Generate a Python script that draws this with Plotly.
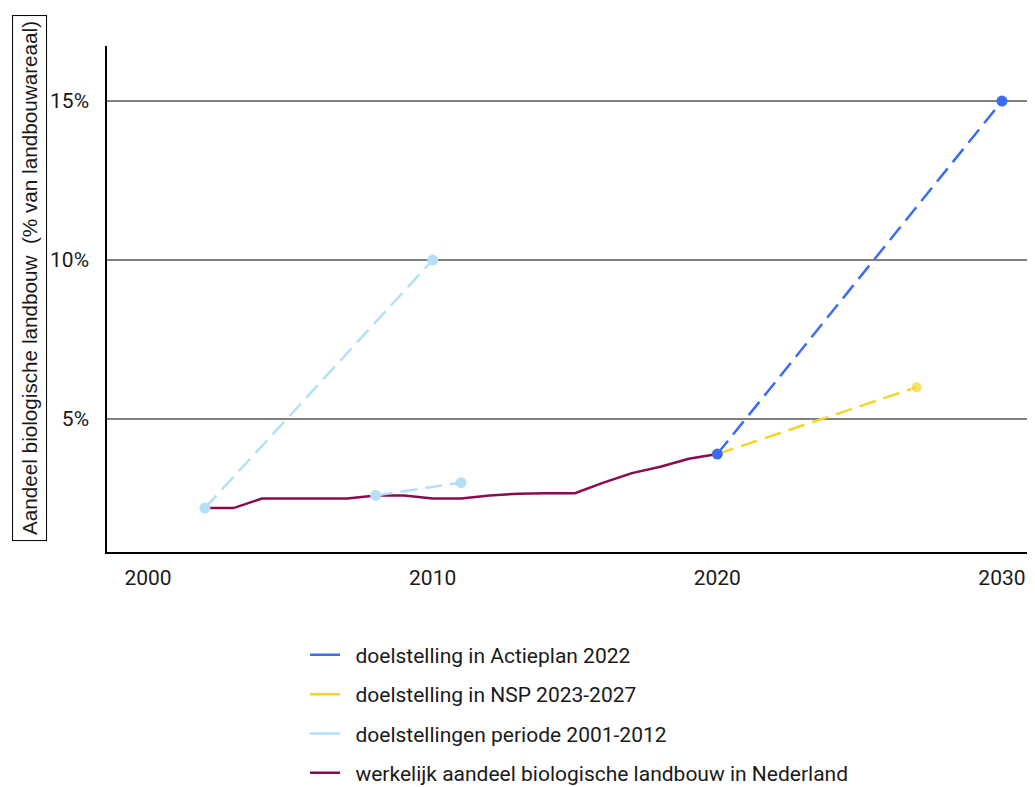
import plotly.graph_objects as go

# Data
years_actual = [2002, 2003, 2004, 2005, 2006, 2007, 2008, 2009, 2010, 2011,
                2012, 2013, 2014, 2015, 2016, 2017, 2018, 2019, 2020]
share_actual = [2.2, 2.2, 2.5, 2.5, 2.5, 2.5, 2.6, 2.6, 2.5, 2.5,
                2.6, 2.65, 2.67, 2.67, 3.0, 3.3, 3.5, 3.75, 3.9]

years_old_goals = [2002, 2010, None, 2008, 2011]
share_old_goals = [2.2, 10.0, None, 2.6, 3.0]

years_nsp = [2020, 2027]
share_nsp = [3.9, 6.0]

years_actieplan = [2020, 2030]
share_actieplan = [3.9, 15.0]

x_ticks = [2000, 2010, 2020, 2030]
y_ticks = [5, 10, 15]
y_tick_labels = ["5%", "10%", "15%"]

names = ["doelstelling in Actieplan 2022",
         "doelstelling in NSP 2023-2027",
         "doelstellingen periode 2001-2012",
         "werkelijk aandeel biologische landbouw in Nederland"]

C_BLUE = "#3b6cf6"
C_YELLOW = "#f5d52a"
C_LIGHT = "#b3e0f7"
C_WINE = "#8a0a4e"
colors = [C_BLUE, C_YELLOW, C_LIGHT, C_WINE]

FONT = "Roboto"
FS = 21
TXT = "#1a1a1a"
DASH = "17px,8px"
NB = "\u00a0\u00a0"

fig = go.Figure()

fig.add_trace(go.Scatter(x=years_actual, y=share_actual, mode="lines",
                         line=dict(color=C_WINE, width=2.5), showlegend=False))
fig.add_trace(go.Scatter(x=years_old_goals, y=share_old_goals, mode="lines+markers",
                         line=dict(color=C_LIGHT, width=2.5, dash=DASH),
                         marker=dict(size=11, color=C_LIGHT), connectgaps=False,
                         showlegend=False))
fig.add_trace(go.Scatter(x=years_nsp, y=share_nsp, mode="lines+markers",
                         line=dict(color=C_YELLOW, width=2.5, dash=DASH),
                         marker=dict(size=[0, 11], color=C_YELLOW),
                         showlegend=False))
fig.add_trace(go.Scatter(x=years_actieplan, y=share_actieplan, mode="lines+markers",
                         line=dict(color=C_BLUE, width=2.5, dash=DASH),
                         marker=dict(size=11, color=C_BLUE),
                         showlegend=False))

for i, (n, c) in enumerate(zip(names, colors)):
    fig.add_trace(go.Scatter(x=[None], y=[None], mode="lines", name=NB + n,
                             line=dict(color=c, width=2.5),
                             legendgroup=f"g{i}", legendrank=i + 1))

fig.update_layout(
    width=1027, height=779,
    margin=dict(l=99, r=0, t=38, b=235),
    paper_bgcolor="white", plot_bgcolor="white",
    font=dict(family=FONT, size=FS, color=TXT),
    xaxis=dict(range=[1998.56, 2031.16], tickvals=x_ticks,
               showgrid=False, zeroline=False,
               showline=True, linecolor="black", linewidth=1.5,
               ticks="", tickfont=dict(size=FS, color=TXT), ticklabelstandoff=6),
    yaxis=dict(range=[0.82, 16.73], tickvals=y_ticks, ticktext=y_tick_labels,
               showgrid=True, gridcolor="#808080", gridwidth=1.5,
               zeroline=False, showline=True, linecolor="black", linewidth=1.5,
               ticks="", tickfont=dict(size=FS, color=TXT), ticklabelstandoff=12),
    legend=dict(orientation="v", x=0.2134, xanchor="left",
                yref="container", y=0.1955, yanchor="top",
                font=dict(size=FS, color=TXT), tracegroupgap=9,
                itemwidth=30, bgcolor="rgba(0,0,0,0)"),
    annotations=[dict(
        text="Aandeel biologische landbouw  (% van landbouwareaal)",
        xref="paper", yref="paper", x=-0.084, y=0.5415,
        xanchor="center", yanchor="middle", textangle=-90, showarrow=False,
        font=dict(size=20.7, color=TXT, family="Liberation Sans"),
        bordercolor="black", borderwidth=1, borderpad=5, bgcolor="white")],
)

fig.write_html("out.html")
